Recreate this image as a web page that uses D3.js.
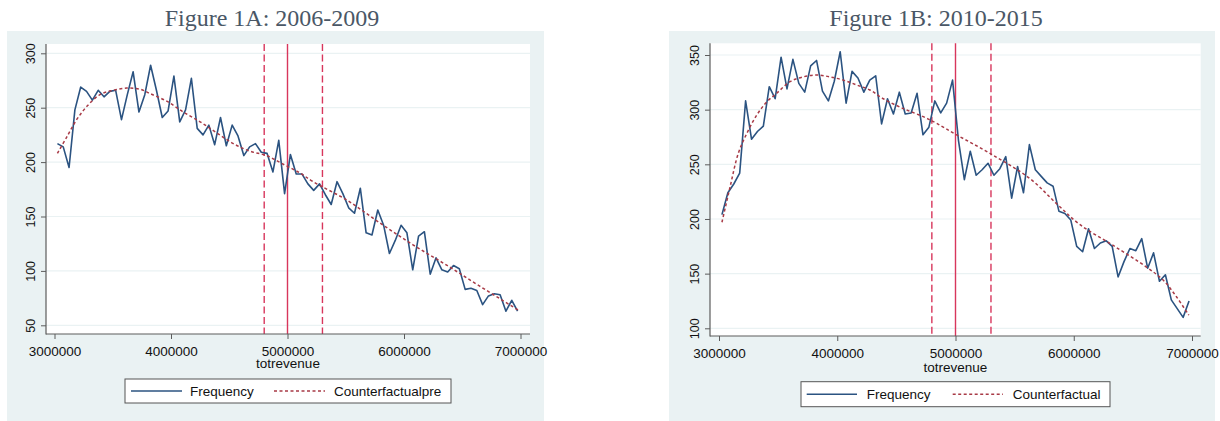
<!DOCTYPE html>
<html><head><meta charset="utf-8">
<script src="https://cdn.jsdelivr.net/npm/d3@7"></script>
<style>html,body{margin:0;padding:0;background:#fff;} svg{display:block}</style>
</head><body>
<svg id="chart" width="1220" height="421"></svg>
<script>
// ---------- DATA ----------
const revenueBins = [
 3025000,3075000,3125000,3175000,3225000,3275000,3325000,3375000,3425000,3475000,
 3525000,3575000,3625000,3675000,3725000,3775000,3825000,3875000,3925000,3975000,
 4025000,4075000,4125000,4175000,4225000,4275000,4325000,4375000,4425000,4475000,
 4525000,4575000,4625000,4675000,4725000,4775000,4825000,4875000,4925000,4975000,
 5025000,5075000,5125000,5175000,5225000,5275000,5325000,5375000,5425000,5475000,
 5525000,5575000,5625000,5675000,5725000,5775000,5825000,5875000,5925000,5975000,
 6025000,6075000,6125000,6175000,6225000,6275000,6325000,6375000,6425000,6475000,
 6525000,6575000,6625000,6675000,6725000,6775000,6825000,6875000,6925000,6975000];

const frequencyA = [
 217,214,195,248,269,265,257,266,260,265,
 266,239,262,283,246,262,289,266,241,247,
 279,237,248,277,231,225,234,216,241,215,
 234,224,206,214,217,209,208,191,220,171,
 207,189,189,180,174,180,170,161,182,171,
 158,153,176,135,133,156,142,116,128,142,
 135,101,132,136,97,112,101,99,105,102,
 83,84,82,69,77,79,78,63,73,63];

const frequencyB = [
 204,224,232,242,308,273,280,285,321,310,
 348,319,346,324,316,340,345,317,308,326,
 353,306,335,329,316,327,331,287,310,296,
 316,296,297,315,277,284,308,297,306,327,
 272,236,262,240,245,251,240,246,257,219,
 248,224,268,245,239,233,230,207,205,199,
 175,170,191,173,178,180,175,147,161,173,
 171,182,155,169,143,149,126,118,110,125];

const counterfactualAX = [3025000,3105000,3190000,3276000,3390000,3505000,3620000,3734000,3820000,3963000,
 4106000,4250000,4390000,4535000,4678000,4820000,4964000,5107000,5219000,5510000,5794000,6077000,6370000,6650000,6980000];
const counterfactualAY = [208,223,239,251,262,266,268,267,263,256,
 246,237,227,217,210,206,198,190,182,165,144,124,105,86,64];

const counterfactualBX = [3025000,3093000,3163000,3234000,3319000,3403000,3488000,3600000,3713000,3826000,
 3938000,4051000,4164000,4276000,4389000,4558000,4727000,4840000,5009000,5299000,5629000,5855000,6050000,
 6330000,6615000,6757000,6870000,6973000];
const counterfactualBY = [197,229,260,278,295,307,315,325.6,330,331.7,
 330,327,322.6,318,310,301,293.6,287.5,277,259.5,237,214,195,
 176,156,144,128.6,112];

const xTicks = [3000000,4000000,5000000,6000000,7000000];
const yTicksA = [50,100,150,200,250,300];
const yTicksB = [100,150,200,250,300,350];
const cutoffs = [4800000,5000000,5300000];
const cutoffStyles = ["dashed","solid","dashed"];
const titles = ["Figure 1A: 2006-2009","Figure 1B: 2010-2015"];
const axisTitle = "totrevenue";
const legendLabelsA = ["Frequency","Counterfactualpre"];
const legendLabelsB = ["Frequency","Counterfactual"];

// ---------- STYLE / LAYOUT ----------
const C = {
  bg:"#eaf2f3", grid:"#eaf2f3", axis:"#5c5c5c", text:"#111",
  freq:"#2b5381", cf:"#a83a46", cut:"#d8365c", title:"#4a5766"
};
const panels = [
 { title:titles[0], freq:frequencyA, cfx:counterfactualAX, cfy:counterfactualAY,
   yTicks:yTicksA, yDomain:[50,300], legend:legendLabelsA,
   bg:[7,544,31,421], plot:[46,530,44,334], xr:[54.5,520.5], yr:[325.3,53.3], titleX:272,
   leg:[125,451,379,403], legX:[131,182,190,274,325,334], xTitleY:368 },
 { title:titles[1], freq:frequencyB, cfx:counterfactualBX, cfy:counterfactualBY,
   yTicks:yTicksB, yDomain:[100,350], legend:legendLabelsB,
   bg:[669,1215,31,421], plot:[710,1200.7,43.3,336], xr:[719,1192], yr:[328.3,55], titleX:936,
   leg:[801,1110,381.7,406.7], legX:[806.7,857,866.7,952.7,1003,1012.7], xTitleY:371.5 }
];

const svg = d3.select("#chart");
svg.append("rect").attr("width",1220).attr("height",421).attr("fill","#fff");

panels.forEach(p => {
  const g = svg.append("g");
  const [bx0,bx1,by0,by1] = p.bg;
  const [px0,px1,py0,py1] = p.plot;
  g.append("rect").attr("x",bx0).attr("y",by0).attr("width",bx1-bx0).attr("height",by1-by0).attr("fill",C.bg);
  g.append("rect").attr("x",px0).attr("y",py0).attr("width",px1-px0).attr("height",py1-py0).attr("fill","#fff");

  g.append("text").attr("x",p.titleX).attr("y",25.5).attr("text-anchor","middle")
    .attr("font-family","'Liberation Serif','Times New Roman',serif").attr("font-size",24)
    .attr("fill",C.title).text(p.title);

  const x = d3.scaleLinear().domain([3000000,7000000]).range(p.xr);
  const y = d3.scaleLinear().domain(p.yDomain).range(p.yr);

  // gridlines
  g.selectAll(".grid").data(p.yTicks).join("line")
    .attr("x1",px0).attr("x2",px1).attr("y1",d=>y(d)).attr("y2",d=>y(d))
    .attr("stroke",C.grid).attr("stroke-width",1.2);

  // cutoff lines
  g.selectAll(".cut").data(cutoffs).join("line")
    .attr("x1",d=>x(d)).attr("x2",d=>x(d)).attr("y1",py0).attr("y2",py1)
    .attr("stroke",C.cut).attr("stroke-width",1.4)
    .attr("stroke-dasharray",(d,i)=>cutoffStyles[i]==="dashed"?"7,3.5":null);

  // frequency line
  const pts = revenueBins.map((b,i)=>[b,p.freq[i]]);
  g.append("path").datum(pts)
    .attr("d", d3.line().x(d=>x(d[0])).y(d=>y(d[1])))
    .attr("fill","none").attr("stroke",C.freq).attr("stroke-width",1.6).attr("stroke-linejoin","round");

  // counterfactual
  const cpts = p.cfx.map((b,i)=>[b,p.cfy[i]]);
  g.append("path").datum(cpts)
    .attr("d", d3.line().curve(d3.curveCatmullRom.alpha(0.5)).x(d=>x(d[0])).y(d=>y(d[1])))
    .attr("fill","none").attr("stroke",C.cf).attr("stroke-width",1.5).attr("stroke-dasharray","3,2.5");

  // axes
  const font = "'Liberation Sans',Arial,sans-serif";
  const ax = g.append("g").attr("transform",`translate(0,${py1})`)
    .call(d3.axisBottom(x).tickValues(xTicks).tickFormat(d3.format("d")).tickSize(5).tickPadding(7).tickSizeOuter(0));
  ax.select(".domain").remove();
  ax.selectAll("line").attr("stroke",C.axis);
  ax.selectAll("text").attr("font-family",font).attr("font-size",13.5).attr("fill",C.text);

  const ay = g.append("g").attr("transform",`translate(${px0},0)`)
    .call(d3.axisLeft(y).tickValues(p.yTicks).tickSize(5).tickSizeOuter(0));
  ay.select(".domain").remove();
  ay.selectAll("line").attr("stroke",C.axis);
  ay.selectAll("text").attr("x",0).attr("y",0).attr("dy","0.35em")
    .attr("transform","translate(-15.5,0) rotate(-90)").attr("text-anchor","middle")
    .attr("font-family",font).attr("font-size",12.5).attr("fill",C.text);

  g.append("line").attr("x1",px0).attr("x2",px0).attr("y1",py0).attr("y2",py1+0.5).attr("stroke",C.axis).attr("stroke-width",1.2);
  g.append("line").attr("x1",px0).attr("x2",px1).attr("y1",py1).attr("y2",py1).attr("stroke",C.axis).attr("stroke-width",1.2);

  g.append("text").attr("x",(px0+px1)/2).attr("y",p.xTitleY).attr("text-anchor","middle")
    .attr("font-family",font).attr("font-size",13.5).attr("fill",C.text).text(axisTitle);

  // legend
  const [lx0,lx1,ly0,ly1] = p.leg;
  const lc = (ly0+ly1)/2;
  g.append("rect").attr("x",lx0).attr("y",ly0).attr("width",lx1-lx0).attr("height",ly1-ly0)
    .attr("fill","#fff").attr("stroke","#555").attr("stroke-width",1);
  const L = p.legX;
  g.append("line").attr("x1",L[0]).attr("x2",L[1]).attr("y1",lc).attr("y2",lc).attr("stroke",C.freq).attr("stroke-width",1.6);
  g.append("text").attr("x",L[2]).attr("y",lc+4.8).attr("font-family",font).attr("font-size",13.5).attr("fill",C.text).text(p.legend[0]);
  g.append("line").attr("x1",L[3]).attr("x2",L[4]).attr("y1",lc).attr("y2",lc).attr("stroke",C.cf).attr("stroke-width",1.5).attr("stroke-dasharray","3,2.5");
  g.append("text").attr("x",L[5]).attr("y",lc+4.8).attr("font-family",font).attr("font-size",13.5).attr("fill",C.text).text(p.legend[1]);
});
</script>
</body></html>
